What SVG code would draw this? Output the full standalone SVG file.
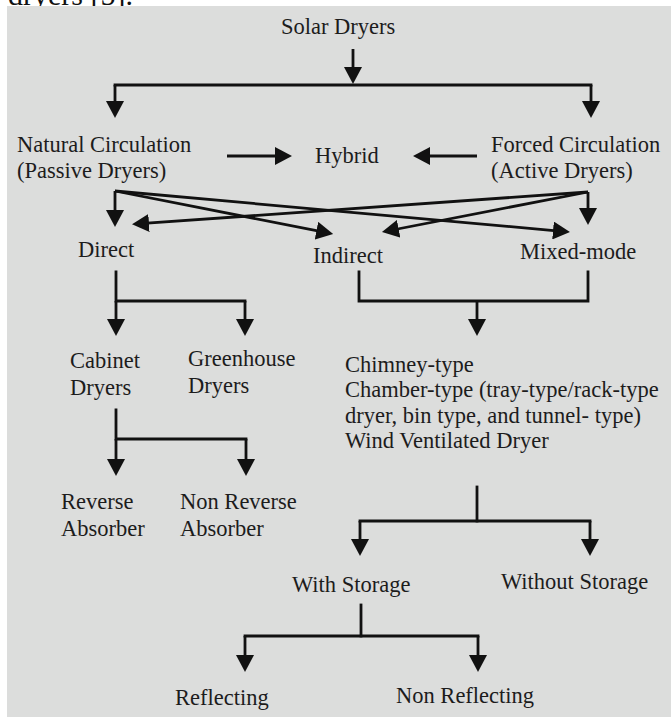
<svg xmlns="http://www.w3.org/2000/svg" width="671" height="717" viewBox="0 0 671 717">
<defs>
<style>
text{font-family:"Liberation Serif","Times New Roman",serif;font-size:22.5px;fill:#1c1c1c}
.c{stroke:#111;stroke-width:2.8;fill:none;stroke-linecap:square}
.a{stroke:#111;stroke-width:2.8;fill:none;marker-end:url(#ah)}
</style>
<marker id="ah" markerUnits="userSpaceOnUse" viewBox="0 0 17 18" markerWidth="17" markerHeight="18" refX="9" refY="9" orient="auto">
<path d="M0,0 L17,9 L0,18 Z" fill="#111"/>
</marker>
</defs>
<rect width="671" height="717" fill="#ffffff"/>
<text x="8" y="4.5" style="font-size:30px;fill:#111">dryers [5].</text>
<rect x="7" y="6" width="664" height="711" fill="#dcdddc"/>

<g id="connectors">
<path class="a" d="M353,49 V76"/>
<path class="c" d="M115,85 H591"/>
<path class="a" d="M115,85 V110"/>
<path class="a" d="M591,85 V110"/>
<path class="a" d="M227,156 H284"/>
<path class="a" d="M477,156 H421"/>
<path class="a" d="M115,191 V219"/>
<path class="a" d="M115,191 L325.3,232.4"/>
<path class="a" d="M115,191 L562,231.3"/>
<path class="a" d="M588,192 V217"/>
<path class="a" d="M588,192 L389.8,230.5"/>
<path class="a" d="M588,192 L140,223.7"/>
<path class="c" d="M116,272 V301 H245"/>
<path class="a" d="M116,301 V328"/>
<path class="a" d="M245,301 V328"/>
<path class="c" d="M359,272 V301 H588 V272"/>
<path class="a" d="M477,301 V328"/>
<path class="c" d="M116,410 V439 H246"/>
<path class="a" d="M116,439 V468"/>
<path class="a" d="M246,439 V468"/>
<path class="c" d="M477,487 V521"/>
<path class="c" d="M360,521 H590"/>
<path class="a" d="M360,521 V548"/>
<path class="a" d="M590,521 V548"/>
<path class="c" d="M361,605 V636"/>
<path class="c" d="M245,636 H478"/>
<path class="a" d="M245,636 V664"/>
<path class="a" d="M478,636 V664"/>
</g>

<g id="solar-dryers"><text x="281" y="34">Solar Dryers</text></g>
<g id="natural-circulation"><text x="17" y="152">Natural Circulation</text><text x="17" y="178">(Passive Dryers)</text></g>
<g id="hybrid"><text x="315" y="163">Hybrid</text></g>
<g id="forced-circulation"><text x="491" y="152">Forced Circulation</text><text x="491" y="178">(Active Dryers)</text></g>
<g id="direct"><text x="78" y="257">Direct</text></g>
<g id="indirect"><text x="313" y="263">Indirect</text></g>
<g id="mixed-mode"><text x="520" y="259">Mixed-mode</text></g>
<g id="cabinet-dryers"><text x="70" y="368">Cabinet</text><text x="70" y="395">Dryers</text></g>
<g id="greenhouse-dryers"><text x="188" y="366">Greenhouse</text><text x="188" y="393">Dryers</text></g>
<g id="dryer-types"><text x="345" y="372">Chimney-type</text><text x="345" y="397">Chamber-type (tray-type/rack-type</text><text x="345" y="423">dryer, bin type, and tunnel- type)</text><text x="345" y="448">Wind Ventilated Dryer</text></g>
<g id="reverse-absorber"><text x="61" y="509">Reverse</text><text x="61" y="536">Absorber</text></g>
<g id="non-reverse-absorber"><text x="180" y="509">Non Reverse</text><text x="180" y="536">Absorber</text></g>
<g id="with-storage"><text x="292" y="592">With Storage</text></g>
<g id="without-storage"><text x="501" y="589">Without Storage</text></g>
<g id="reflecting"><text x="175" y="705">Reflecting</text></g>
<g id="non-reflecting"><text x="396" y="703">Non Reflecting</text></g>
</svg>
